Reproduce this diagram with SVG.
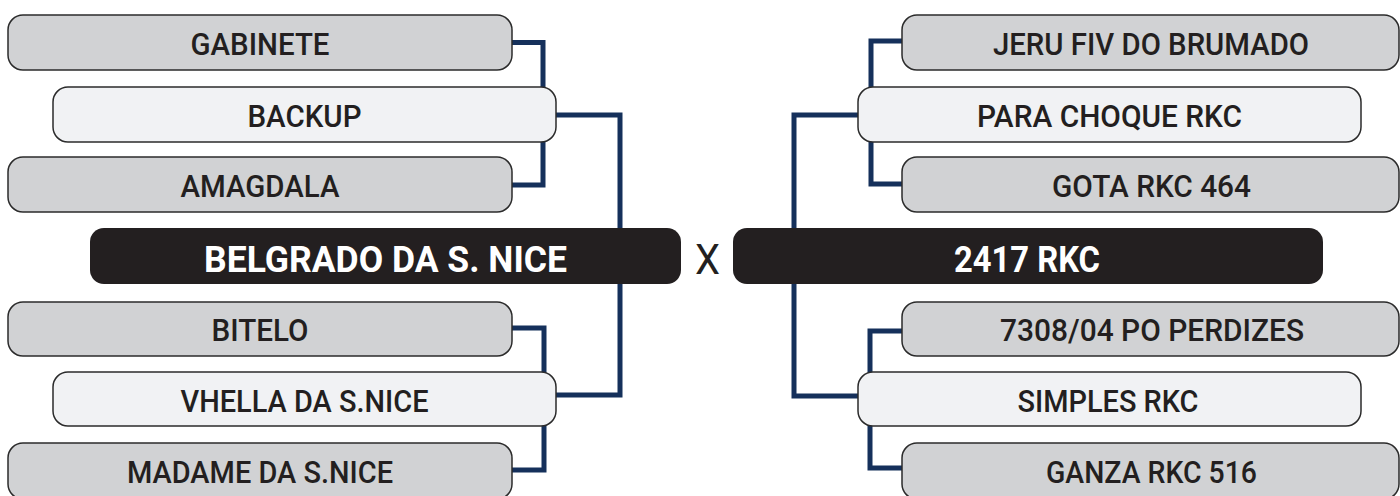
<svg xmlns="http://www.w3.org/2000/svg" width="1400" height="496" viewBox="0 0 1400 496">
<style>
.g{fill:#d1d2d4;stroke:#2b2b2b;stroke-width:1.5}
.l{fill:#f1f2f4;stroke:#2b2b2b;stroke-width:1.5}
.b{fill:#231f20}
.t{font-family:Roboto,"Liberation Sans",Arial,sans-serif;font-size:31px;font-weight:500;fill:#231f20;text-anchor:middle}
.w{font-family:Roboto,"Liberation Sans",Arial,sans-serif;font-size:37px;font-weight:bold;fill:#ffffff;text-anchor:middle}
.c{fill:none;stroke:#15305b;stroke-width:5}
</style>
<rect width="1400" height="496" fill="#ffffff"/>
<g id="connectors">
<path class="c" d="M512,42.5 H543 V185 H512"/>
<path class="c" d="M556,115 H620 V395 H556"/>
<path class="c" d="M512,328 H544 V470 H512"/>
<path class="c" d="M902,41 H871 V184 H902"/>
<path class="c" d="M858,115 H794 V396 H858"/>
<path class="c" d="M902,331 H870 V468 H902"/>
</g>
<g id="n-gabinete"><rect class="g" x="8" y="15" width="504" height="55" rx="15"/><text class="t" x="260" y="55" textLength="139" lengthAdjust="spacingAndGlyphs">GABINETE</text></g>
<g id="n-backup"><rect class="l" x="53" y="87" width="503" height="55" rx="15"/><text class="t" x="304.5" y="127" textLength="114" lengthAdjust="spacingAndGlyphs">BACKUP</text></g>
<g id="n-amagdala"><rect class="g" x="8" y="157" width="504" height="55" rx="15"/><text class="t" x="260" y="197" textLength="159" lengthAdjust="spacingAndGlyphs">AMAGDALA</text></g>
<g id="n-belgrado"><rect class="b" x="90" y="228" width="591" height="56" rx="14"/><text class="w" x="385.5" y="272" textLength="363" lengthAdjust="spacingAndGlyphs">BELGRADO DA S. NICE</text></g>
<g id="n-bitelo"><rect class="g" x="8" y="302" width="504" height="54" rx="15"/><text class="t" x="260" y="341" textLength="97" lengthAdjust="spacingAndGlyphs">BITELO</text></g>
<g id="n-vhella"><rect class="l" x="53" y="372" width="503" height="54" rx="15"/><text class="t" x="304.5" y="412" textLength="248" lengthAdjust="spacingAndGlyphs">VHELLA DA S.NICE</text></g>
<g id="n-madame"><rect class="g" x="8" y="443" width="504" height="56" rx="15"/><text class="t" x="260" y="483" textLength="266" lengthAdjust="spacingAndGlyphs">MADAME DA S.NICE</text></g>
<g id="vs"><text x="707.5" y="274" font-family="Roboto,Liberation Sans,Arial,sans-serif" font-size="43" fill="#231f20" text-anchor="middle" textLength="25" lengthAdjust="spacingAndGlyphs">X</text></g>
<g id="n-jeru"><rect class="g" x="902" y="15" width="497" height="55" rx="15"/><text class="t" x="1151" y="55" textLength="316" lengthAdjust="spacingAndGlyphs">JERU FIV DO BRUMADO</text></g>
<g id="n-para"><rect class="l" x="858" y="87" width="503" height="55" rx="15"/><text class="t" x="1109.5" y="127" textLength="265" lengthAdjust="spacingAndGlyphs">PARA CHOQUE RKC</text></g>
<g id="n-gota"><rect class="g" x="902" y="157" width="497" height="55" rx="15"/><text class="t" x="1151.5" y="197" textLength="199" lengthAdjust="spacingAndGlyphs">GOTA RKC 464</text></g>
<g id="n-2417"><rect class="b" x="733" y="228" width="590" height="56" rx="14"/><text class="w" x="1027" y="272" textLength="146" lengthAdjust="spacingAndGlyphs">2417 RKC</text></g>
<g id="n-7308"><rect class="g" x="902" y="302" width="497" height="54" rx="15"/><text class="t" x="1152" y="341" textLength="304" lengthAdjust="spacingAndGlyphs">7308/04 PO PERDIZES</text></g>
<g id="n-simples"><rect class="l" x="858" y="372" width="503" height="54" rx="15"/><text class="t" x="1108" y="412" textLength="181" lengthAdjust="spacingAndGlyphs">SIMPLES RKC</text></g>
<g id="n-ganza"><rect class="g" x="902" y="443" width="497" height="56" rx="15"/><text class="t" x="1151.5" y="483" textLength="211" lengthAdjust="spacingAndGlyphs">GANZA RKC 516</text></g>
</svg>
